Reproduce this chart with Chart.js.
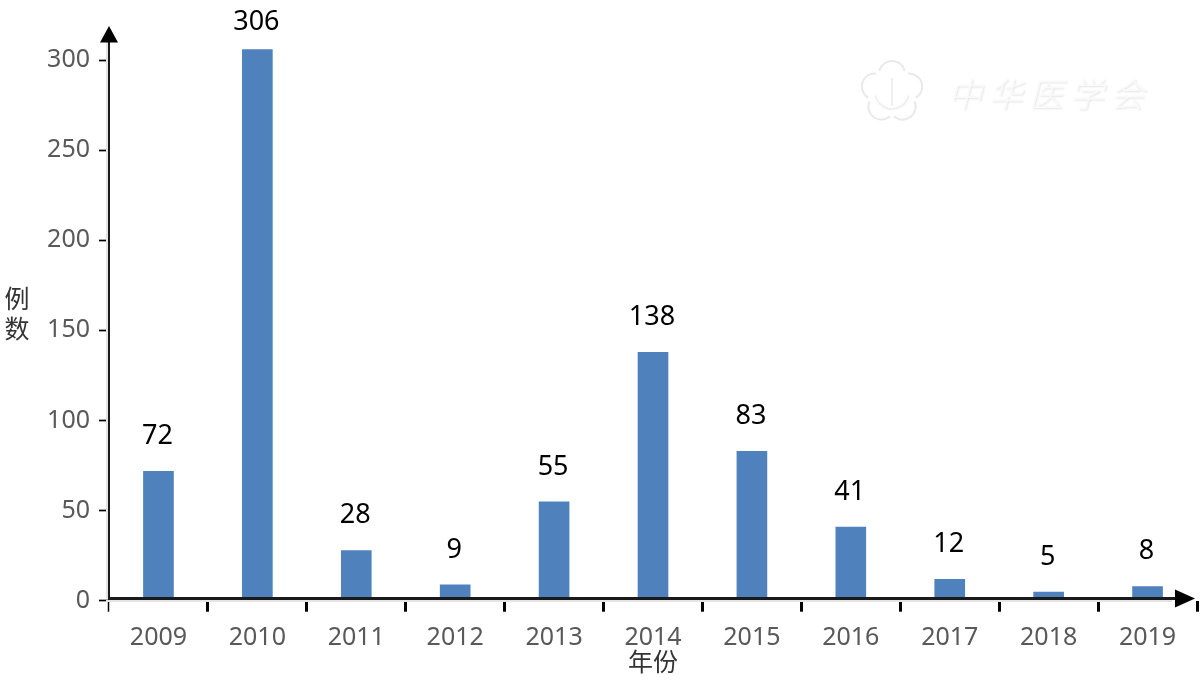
<!DOCTYPE html>
<html><head><meta charset="utf-8">
<style>html,body{margin:0;padding:0;background:#fff}canvas{display:block}</style>
<script src="https://cdn.jsdelivr.net/npm/chart.js@4"></script>
</head><body><canvas id="c" width="1203" height="680"></canvas>
<script>
const years = ['2009','2010','2011','2012','2013','2014','2015','2016','2017','2018','2019'];
const cases = [72,306,28,9,55,138,83,41,12,5,8];
const yAxisTitle = ['例','数'];
const xAxisTitle = '年份';
const watermark = '中华医学会';
const BAR = '#4f81bd', LINE = '#1a1a1a', TICKTXT = '#595959';
const CJK = '"Noto Sans CJK SC","Noto Sans"';

const deco = {
  id:'deco',
  beforeDatasetsDraw(chart){
    const c = chart.ctx; c.save();
    // watermark emblem
    const ex=892, ey=92;
    c.strokeStyle='#e9e9e9'; c.lineWidth=2;
    c.beginPath();
    for(let i=0;i<5;i++){
      const a0=-Math.PI/2+i*2*Math.PI/5;
      c.moveTo(ex+Math.cos(a0-1.35)*13+Math.cos(a0)*18,ey+Math.sin(a0-1.35)*13+Math.sin(a0)*18);
      c.arc(ex+Math.cos(a0)*18,ey+Math.sin(a0)*18,13,a0-1.35,a0+1.35);
    }
    c.stroke();
    c.strokeStyle='#efefef'; c.lineWidth=2;
    c.beginPath(); c.arc(ex,ey,17,0.2,Math.PI-0.2); c.stroke();
    c.beginPath(); c.moveTo(ex,ey-14); c.lineTo(ex,ey+14); c.stroke();
    // watermark text
    c.font='italic 200 34px '+CJK;
    c.textAlign='center'; c.textBaseline='middle';
    c.shadowColor='rgba(0,0,0,0.12)'; c.shadowBlur=2; c.shadowOffsetX=1; c.shadowOffsetY=1;
    c.fillStyle='#fafafa';
    [...watermark].forEach((ch,i)=>c.fillText(ch,965+i*40.5,94));
    c.restore();
  },
  afterDatasetsDraw(chart){
    const c = chart.ctx, y = chart.scales.y, x = chart.scales.x;
    const ax = x.left, ay = y.getPixelForValue(0)-2.2, xEnd = x.right-2;
    c.save();
    // soft shadow of axes
    c.fillStyle='#e4e4e4';
    c.fillRect(ax-3,42,2,ay-42);
    c.fillRect(ax-3,ay+1.5,xEnd-ax-20,2);
    // axes
    c.strokeStyle=LINE; c.lineWidth=2;
    c.beginPath(); c.moveTo(ax,40); c.lineTo(ax,ay+1.5); c.stroke();
    c.lineWidth=3;
    c.beginPath(); c.moveTo(ax-1,ay); c.lineTo(xEnd-16,ay); c.stroke();
    // arrows
    c.fillStyle='#000';
    c.beginPath(); c.moveTo(ax,26); c.lineTo(ax+9,42.5); c.lineTo(ax-9,42.5); c.closePath(); c.fill();
    c.beginPath(); c.moveTo(xEnd,ay); c.lineTo(xEnd-20,ay+9); c.lineTo(xEnd-20,ay-9); c.closePath(); c.fill();
    // value labels
    c.font='27px "Noto Sans"'; c.fillStyle='#000';
    c.textAlign='center'; c.textBaseline='middle';
    chart.getDatasetMeta(0).data.forEach((b,i)=>{
      c.fillText(String(cases[i]), b.x-1, Math.max(b.y-34.5,22.5));
    });
    // y title
    c.font='25px '+CJK; c.fillStyle='#333';
    yAxisTitle.forEach((ch,i)=>c.fillText(ch,17,298+i*30));
    c.restore();
  }
};

new Chart(document.getElementById('c'),{
  type:'bar',
  data:{labels:years,datasets:[{data:cases,backgroundColor:BAR,barPercentage:0.31,categoryPercentage:1}]},
  plugins:[deco],
  options:{
    responsive:false,animation:false,
    layout:{autoPadding:false,padding:{top:5.6,right:6,left:0,bottom:0}},
    plugins:{legend:{display:false},tooltip:{enabled:false},title:{display:false}},
    scales:{
      x:{
        border:{display:false},
        grid:{drawOnChartArea:false,drawTicks:true,tickLength:11,tickColor:'#000',
              tickWidth:ctx=>(ctx.index===0||ctx.index===years.length)?1.5:3},
        ticks:{color:TICKTXT,font:{family:'"Noto Sans"',size:25},padding:11,maxRotation:0,autoSkip:false},
        title:{display:true,text:xAxisTitle,color:'#333',font:{family:CJK,size:25},padding:{top:0,bottom:4}},
        afterFit(s){s.height=79.3;}
      },
      y:{
        min:0,max:320,
        border:{display:false},
        grid:{drawOnChartArea:false,drawTicks:true,tickLength:10,tickColor:'#000',tickWidth:1.7},
        ticks:{stepSize:50,color:TICKTXT,font:{family:'"Noto Sans"',size:25},padding:9},
        afterBuildTicks(s){s.ticks=s.ticks.filter(t=>t.value<=300);},
        afterFit(s){s.width=109;}
      }
    }
  }
});
</script></body></html>
